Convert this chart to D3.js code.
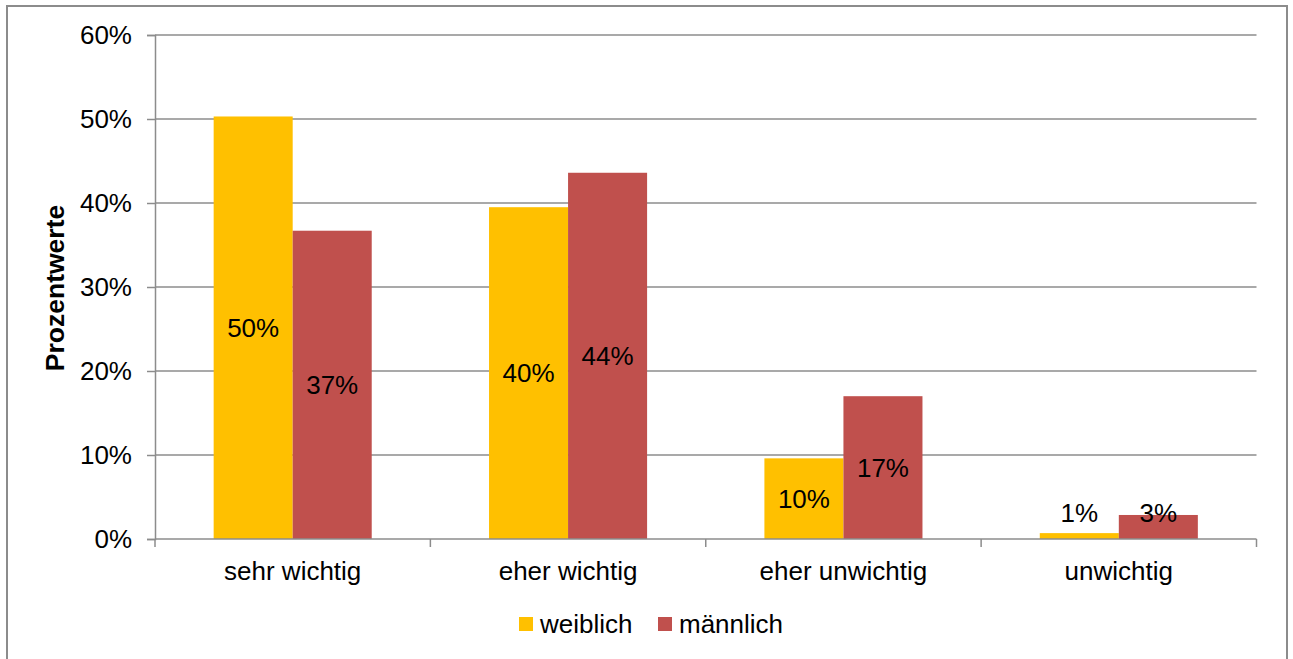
<!DOCTYPE html>
<html><head><meta charset="utf-8">
<script src="https://cdn.jsdelivr.net/npm/d3@7"></script>
<style>
body{margin:0;background:#fff;}
text{font-family:"Liberation Sans",Arial,sans-serif;fill:#000;}
</style></head>
<body>
<svg id="chart" width="1293" height="659"></svg>
<script>
const categories = ["sehr wichtig","eher wichtig","eher unwichtig","unwichtig"];
const seriesNames = ["weiblich","männlich"];
const weiblich = [0.503, 0.395, 0.096, 0.007];
const maennlich = [0.367, 0.436, 0.170, 0.0286];
const labelsWeiblich = ["50%","40%","10%","1%"];
const labelsMaennlich = ["37%","44%","17%","3%"];
const yTicks = [0,0.1,0.2,0.3,0.4,0.5,0.6];
const colors = ["#FFC000","#C0504D"];

const svg = d3.select("#chart");
const pLeft = 155, pRight = 1256.5, pTop = 35, pBottom = 539;
const fs = 26;

svg.append("rect").attr("x",7).attr("y",6).attr("width",1280).attr("height",670)
  .attr("fill","#fff").attr("stroke","#8c8c8c").attr("stroke-width",2);

const y = d3.scaleLinear().domain([0,0.6]).range([pBottom,pTop]);
const x0 = d3.scaleBand().domain(categories).range([pLeft,pRight]).padding(0);
const groupW = x0.bandwidth()*0.574;
const x1 = d3.scaleBand().domain(seriesNames).range([0,groupW]).padding(0);
const off = (x0.bandwidth()-groupW)/2;

// gridlines
svg.append("g").selectAll("line").data(yTicks.slice(1)).join("line")
  .attr("x1",pLeft).attr("x2",pRight).attr("y1",d=>y(d)).attr("y2",d=>y(d))
  .attr("stroke","#8c8c8c").attr("stroke-width",1.5);

// y axis
const yAxis = svg.append("g").attr("transform",`translate(${pLeft},0)`)
  .call(d3.axisLeft(y).tickValues(yTicks).tickFormat(d3.format(".0%")).tickSize(8).tickPadding(15));
yAxis.select(".domain").attr("stroke","#8c8c8c").attr("stroke-width",1.5);
yAxis.selectAll(".tick line").attr("stroke","#8c8c8c").attr("stroke-width",1.5);
yAxis.selectAll(".tick text").attr("font-size",fs).attr("font-family","Liberation Sans, Arial, sans-serif").attr("fill","#000");

// bars
const data = categories.map((c,i)=>({c, vals:[
  {s:seriesNames[0], v:weiblich[i], l:labelsWeiblich[i]},
  {s:seriesNames[1], v:maennlich[i], l:labelsMaennlich[i]}]}));
const g = svg.append("g").selectAll("g").data(data).join("g")
  .attr("transform",d=>`translate(${x0(d.c)+off},0)`);
g.selectAll("rect").data(d=>d.vals).join("rect")
  .attr("x",d=>x1(d.s)).attr("width",x1.bandwidth())
  .attr("y",d=>y(d.v)).attr("height",d=>pBottom-y(d.v))
  .attr("fill",(d,i)=>colors[i]);
g.selectAll("text").data(d=>d.vals).join("text")
  .attr("x",d=>x1(d.s)+x1.bandwidth()/2)
  .attr("y",d=>Math.min((y(d.v)+pBottom)/2, 513))
  .attr("dy","0.35em").attr("text-anchor","middle").attr("font-size",fs)
  .text(d=>d.l);

// x axis
const xa = svg.append("g").attr("transform",`translate(0,${pBottom})`);
xa.append("line").attr("x1",pLeft).attr("x2",pRight).attr("stroke","#8c8c8c").attr("stroke-width",1.5);
const bounds = categories.map(c=>x0(c)).concat([pRight]);
xa.selectAll("line.tk").data(bounds).join("line").attr("class","tk")
  .attr("x1",d=>d).attr("x2",d=>d).attr("y1",0).attr("y2",8)
  .attr("stroke","#8c8c8c").attr("stroke-width",1.5);
xa.selectAll("text").data(categories).join("text")
  .attr("x",d=>x0(d)+x0.bandwidth()/2).attr("y",41)
  .attr("text-anchor","middle").attr("font-size",fs).text(d=>d);

// y title
svg.append("text").attr("transform","translate(64,288) rotate(-90)")
  .attr("text-anchor","middle").attr("font-size",26.5).attr("font-weight","bold")
  .text("Prozentwerte");

// legend
const legendX = [519, 658];
const lg = svg.append("g").selectAll("g").data(seriesNames).join("g")
  .attr("transform",(d,i)=>`translate(${legendX[i]},617)`);
lg.append("rect").attr("width",14).attr("height",14).attr("fill",(d,i)=>colors[i]);
lg.append("text").attr("x",21).attr("y",16).attr("font-size",fs).text(d=>d);
</script>
</body></html>
